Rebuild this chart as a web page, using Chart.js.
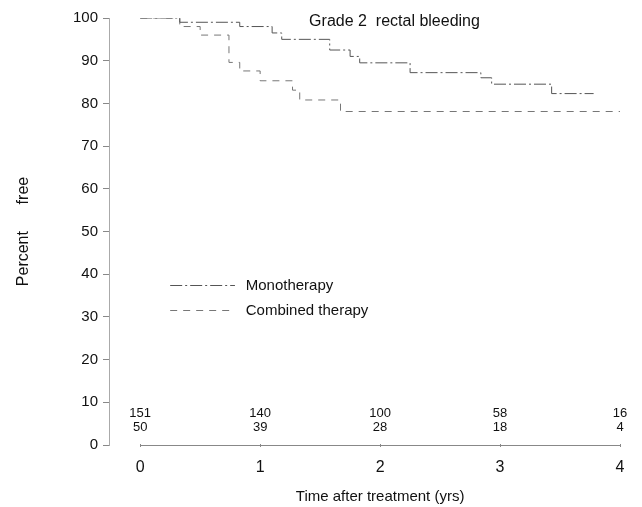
<!DOCTYPE html>
<html>
<head>
<meta charset="utf-8">
<script src="https://cdn.jsdelivr.net/npm/chart.js@4"></script>
<style>
  html, body { margin: 0; padding: 0; background: #fff; }
  #wrap { width: 642px; height: 507px; position: relative; }
</style>
</head>
<body>
<div id="wrap"><canvas id="km"></canvas></div>
<script>
// Kaplan-Meier steps (time in years, percent free)
const monoTimes = [0, 0.33, 0.83, 1.1, 1.18, 1.58, 1.75, 1.83, 2.25, 2.84, 2.93, 3.43, 3.78];
const monoValues = [100, 99, 98, 96.5, 95, 92.5, 91, 89.5, 87.2, 86, 84.5, 82.3, 82.3];
const combTimes = [0, 0.33, 0.5, 0.74, 0.83, 1.0, 1.27, 1.33, 1.67, 4.0];
const combValues = [100, 98, 96, 89.6, 87.6, 85.3, 83.1, 80.8, 78.1, 78.1];

const yearTicks = [0, 1, 2, 3, 4];
const atRiskMono = [151, 140, 100, 58, 16];
const atRiskComb = [50, 39, 28, 18, 4];
const seriesNames = ['Monotherapy', 'Combined therapy'];

const narrow = "'Liberation Sans Narrow', 'Liberation Sans', Arial, sans-serif";
const plain = "'Liberation Sans', Arial, sans-serif";

function toPoints(xs, ys) {
  return xs.map(function (x, i) { return { x: x, y: ys[i] }; });
}

// draws title, x axis line, numbers at risk, legend and x title
const extras = {
  id: 'extras',
  afterDraw: function (chart) {
    const ctx = chart.ctx;
    const xs = chart.scales.x;
    const ys = chart.scales.y;
    ctx.save();

    // x axis line from 0 to 4 with small ticks
    ctx.strokeStyle = '#888';
    ctx.lineWidth = 1;
    ctx.beginPath();
    ctx.moveTo(xs.getPixelForValue(0), ys.bottom + 0.5);
    ctx.lineTo(xs.getPixelForValue(4), ys.bottom + 0.5);
    ctx.stroke();
    yearTicks.forEach(function (t) {
      const px = Math.round(xs.getPixelForValue(t)) + 0.5;
      ctx.beginPath();
      ctx.moveTo(px, ys.bottom - 1);
      ctx.lineTo(px, ys.bottom + 2);
      ctx.stroke();
    });

    // title
    ctx.fillStyle = '#111';
    ctx.font = '16px ' + plain;
    ctx.textAlign = 'center';
    ctx.textBaseline = 'middle';
    ctx.fillText('Grade 2  rectal bleeding', xs.getPixelForValue(2.12), 22);

    // numbers at risk
    ctx.font = '13px ' + narrow;
    yearTicks.forEach(function (t, i) {
      const px = xs.getPixelForValue(t);
      ctx.fillText(String(atRiskMono[i]), px, ys.getPixelForValue(7.5));
      ctx.fillText(String(atRiskComb[i]), px, ys.getPixelForValue(4));
    });

    // legend
    const legendY = [37.5, 31.6];
    chart.data.datasets.forEach(function (ds, i) {
      const py = Math.round(ys.getPixelForValue(legendY[i])) + 0.5;
      ctx.strokeStyle = ds.borderColor;
      ctx.setLineDash(ds.borderDash);
      ctx.beginPath();
      ctx.moveTo(xs.getPixelForValue(0.25), py);
      ctx.lineTo(xs.getPixelForValue(0.79), py);
      ctx.stroke();
      ctx.setLineDash([]);
      ctx.font = '15px ' + narrow;
      ctx.textAlign = 'left';
      ctx.fillStyle = '#111';
      ctx.fillText(ds.label, xs.getPixelForValue(0.88), py);
    });

    // x title
    ctx.font = '15px ' + plain;
    ctx.textAlign = 'center';
    ctx.fillText('Time after treatment (yrs)', xs.getPixelForValue(2), 497);

    ctx.restore();
  }
};

new Chart(document.getElementById('km'), {
  type: 'line',
  data: {
    datasets: [
      {
        label: seriesNames[0],
        data: toPoints(monoTimes, monoValues),
        stepped: true,
        borderColor: '#555',
        borderWidth: 1,
        borderDash: [12, 3, 2, 3],
        pointRadius: 0,
        fill: false
      },
      {
        label: seriesNames[1],
        data: toPoints(combTimes, combValues),
        stepped: true,
        borderColor: '#777',
        borderWidth: 1,
        borderDash: [7, 6],
        pointRadius: 0,
        fill: false
      }
    ]
  },
  options: {
    responsive: true,
    maintainAspectRatio: false,
    animation: false,
    layout: { padding: { top: 18, right: 16, left: 0, bottom: 0 } },
    plugins: {
      legend: { display: false },
      tooltip: { enabled: false }
    },
    scales: {
      x: {
        type: 'linear',
        min: -0.26,
        max: 4.05,
        afterBuildTicks: function (scale) {
          scale.ticks = yearTicks.map(function (v) { return { value: v }; });
        },
        afterFit: function (scale) { scale.height = 62; },
        grid: { display: false, drawTicks: false },
        border: { display: false },
        ticks: {
          padding: 13,
          color: '#111',
          font: { family: plain, size: 16 },
          maxRotation: 0
        }
      },
      y: {
        min: 0,
        max: 100,
        afterFit: function (scale) { scale.width = 109; },
        ticks: {
          stepSize: 10,
          padding: 5,
          color: '#111',
          font: { family: plain, size: 15 }
        },
        grid: {
          drawOnChartArea: false,
          drawTicks: true,
          tickLength: 6,
          color: '#888'
        },
        border: { display: true, color: '#aaa', dash: [1, 1] },
        title: {
          display: true,
          text: 'Percent      free',
          color: '#111',
          font: { family: plain, size: 16 },
          padding: { top: 14, bottom: 0 }
        }
      }
    }
  },
  plugins: [extras]
});
</script>
</body>
</html>
